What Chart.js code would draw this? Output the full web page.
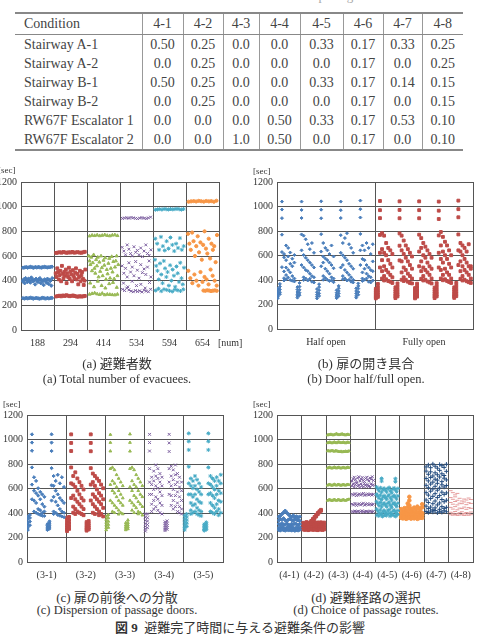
<!DOCTYPE html>
<html>
<head>
  <meta charset="utf-8">
  <title>避難完了時間に与える避難条件の影響</title>
  <script src="https://cdn.jsdelivr.net/npm/chart.js@4.4.0/dist/chart.umd.min.js"></script>
  <style>
    body {
      margin: 0;
      width: 482px;
      height: 640px;
      position: relative;
      overflow: hidden;
      background: #fff;
      color: #333;
      font-family: "Liberation Serif", "Noto Sans CJK JP", serif;
    }
    .cap { position: absolute; transform: translateX(-50%); white-space: nowrap; }
    .jp { font-size: 13px; }
    .en { font-size: 12.5px; }
    .unit { position: absolute; font-size: 9px; color: #333; }
    #tbl {
      position: absolute; left: 15px; top: 12px; width: 448px;
      border-collapse: collapse; font-size: 14px; color: #444;
      font-family: "Liberation Serif", serif;
      border-top: 2px solid #888; border-bottom: 2px solid #888;
    }
    #tbl td { padding: 0; height: 19px; text-align: center; }
    #tbl td + td { border-left: 1px solid #999; }
    #tbl td:first-child { text-align: left; padding-left: 9px; }
    #tbl tr:first-child td { height: 20px; border-bottom: 1px solid #888; }
    canvas { position: absolute; }
  </style>
</head>
<body>

  <div class="cap" style="left:240px; top:-12px; font-size:13px; color:#aaa;">Table 6&nbsp;&nbsp;Evacuation condition 4 – Choice of passage routes</div>
  <table id="tbl"></table>

  <canvas id="chartA" width="238" height="180" style="left:-12px; top:172px;"></canvas>
  <canvas id="chartB" width="242" height="180" style="left:238px; top:172px;"></canvas>
  <canvas id="chartC" width="232" height="180" style="left:-2px; top:405px;"></canvas>
  <canvas id="chartD" width="242" height="180" style="left:238px; top:405px;"></canvas>

  <div class="unit" style="left:-2px; top:165px;">[sec]</div>
  <div class="unit" style="left:253px; top:166px;">[sec]</div>
  <div class="unit" style="left:3px; top:399px;">[sec]</div>
  <div class="unit" style="left:253px; top:399px;">[sec]</div>
  <div class="unit" style="left:218px; top:337px; font-size:10px;">[num]</div>

  <div class="cap jp" style="left:117px; top:353px;">(a) 避難者数</div>
  <div class="cap en" style="left:117px; top:372px;">(a) Total number of evacuees.</div>
  <div class="cap jp" style="left:366px; top:353px;">(b) 扉の開き具合</div>
  <div class="cap en" style="left:366px; top:372px;">(b) Door half/full open.</div>
  <div class="cap jp" style="left:117px; top:587px;">(c) 扉の前後への分散</div>
  <div class="cap en" style="left:117px; top:603px;">(c) Dispersion of passage doors.</div>
  <div class="cap jp" style="left:366px; top:587px;">(d) 避難経路の選択</div>
  <div class="cap en" style="left:366px; top:603px;">(d) Choice of passage routes.</div>
  <div class="cap jp" style="left:240px; top:617px;"><b>図 9</b>&nbsp;&nbsp;避難完了時間に与える避難条件の影響</div>

  <script>
    // ---- table 6 ----
    const conditions = ["Stairway A-1", "Stairway A-2", "Stairway B-1", "Stairway B-2", "RW67F Escalator 1", "RW67F Escalator 2"];
    const routeCols = ["4-1", "4-2", "4-3", "4-4", "4-5", "4-6", "4-7", "4-8"];
    const shares = [
      ["0.50", "0.25", "0.0", "0.0", "0.33", "0.17", "0.33", "0.25"],
      ["0.0", "0.25", "0.0", "0.0", "0.0", "0.17", "0.0", "0.25"],
      ["0.50", "0.25", "0.0", "0.0", "0.33", "0.17", "0.14", "0.15"],
      ["0.0", "0.25", "0.0", "0.0", "0.0", "0.17", "0.0", "0.15"],
      ["0.0", "0.0", "0.0", "0.50", "0.33", "0.17", "0.53", "0.10"],
      ["0.0", "0.0", "1.0", "0.50", "0.0", "0.17", "0.0", "0.10"]
    ];
    const colWidths = [127, 41, 40, 36, 41, 43, 40, 39, 41];

    // ---- (a) number of evacuees: bands of completion times per group ----
    const evacLabels = ["188", "294", "414", "534", "594", "654"];
    const evac188 = [
      [505, 507, 510, 506, 509, 512, 508, 505, 510, 507, 511, 508, 506, 509, 512, 510, 507, 509, 511, 513],
      [395, 410, 380, 420, 405, 390, 415, 400, 385, 425, 410, 395, 405, 370, 415, 400, 390, 410, 420, 380, 405, 395, 365, 410, 400, 385, 415, 375, 405, 398, 360, 420],
      [258, 255, 260, 256, 259, 262, 257, 255, 258, 260, 256, 254, 258, 261, 257, 255, 259, 256, 258, 260]
    ];
    const evac294 = [
      [625, 628, 630, 627, 632, 629, 626, 630, 628, 633, 627, 629, 631, 628, 626, 630, 634],
      [460, 430, 500, 470, 410, 445, 480, 395, 520, 455, 420, 470, 440, 490, 380, 460, 430, 505, 415, 475, 450, 395, 485, 440, 420, 465, 500, 410, 455, 370, 430, 480, 395, 445, 470, 415, 365, 400, 490],
      [272, 275, 278, 273, 280, 276, 282, 278, 274, 277, 280, 275, 272, 270, 274, 271, 273, 276]
    ];
    const evac414 = [
      [762, 768, 765, 770, 764, 767, 772, 766, 763, 769, 771, 765],
      [600, 560, 530, 590, 480, 545, 610, 500, 460, 570, 520, 590, 430, 550, 475, 600, 505, 440, 565, 525, 585, 410, 490, 455, 540, 580, 420, 500, 595, 470, 555, 415, 510, 560, 600, 440, 530],
      [380, 350, 395, 360, 340, 375, 385, 345],
      [290, 295, 300, 292, 288, 297, 285, 290, 288, 286, 284, 290]
    ];
    const evac534 = [
      [905, 908, 910, 906, 912, 909, 905, 903, 907, 911, 906, 904, 909, 915],
      [670, 640, 610, 690, 655, 620, 600, 675, 630, 645, 610, 665, 595, 640, 690, 620, 605, 650],
      [520, 460, 500, 430, 545, 470, 510, 440, 555, 485, 420, 530, 465, 495, 450, 510, 560, 430],
      [380, 350, 395, 360, 370, 340, 385],
      [330, 320, 340, 325, 315, 310, 320, 312, 318, 308, 322, 315, 310, 330]
    ];
    const evac594 = [
      [975, 978, 980, 976, 982, 979, 977, 981, 978, 980, 983, 979, 976, 981],
      [740, 700, 650, 755, 680, 645, 720, 660, 750, 690, 640, 700, 665, 745, 650, 680],
      [570, 520, 480, 410, 540, 450, 380, 560, 500, 430, 470, 360, 525, 400, 490, 440, 350, 515, 460, 390, 545, 420, 370, 505],
      [320, 335, 315, 330, 325, 318, 312, 328, 322, 316, 330]
    ];
    const evac654 = [
      [1040, 1043, 1045, 1042, 1047, 1044, 1041, 1046, 1043, 1045, 1040, 1048],
      [780, 700, 650, 790, 720, 600, 680, 760, 630, 710, 570, 690, 800, 660, 620, 740, 580, 700, 650, 680, 550, 770],
      [480, 420, 380, 450, 400, 360, 470, 390, 430, 410, 370, 490, 440, 400, 360],
      [null, null, null, null, null, null, null, null, 320, 318, 322, 320, 316, 319, 321, 318]
    ];

    // ---- (b) door half / fully open: 5 runs of columns per group ----
    const doorLabels = ["Half open", "Fully open"];
    const halfOpen = [
      [[252, 266, 280, 296, 312, 330], [284, 300, 322, 346, 368], [1040, 975, 905, 770, 628, 505], [612, 585, 470, 415, 396], [682, 562, 502, 440, 404], [662, 592, 482, 420], [624, 532, 462, 400], [574, 512, 432, 394], [604, 542, 412, 388]],
      [[256, 270, 284, 302, 322, 342], [276, 296, 320, 346, 376], [1040, 972, 906, 772, 642, 522], [762, 604, 502, 422, 400], [732, 582, 482, 412], [692, 562, 472, 396], [652, 542, 452, 410], [702, 522, 432, 386], [622, 502, 422, 380]],
      [[250, 264, 280, 300, 326], [270, 290, 316, 342, 366], [1042, 974, 904, 774, 632, 512], [702, 592, 542, 432, 402], [662, 576, 492, 416], [642, 562, 472, 402], [612, 542, 452, 392], [682, 522, 422, 396], [592, 496, 412, 382]],
      [[252, 264, 278, 296, 316], [268, 290, 310, 332, 352], [1040, 970, 906, 766, 622, 502], [702, 602, 522, 432, 406], [742, 582, 482, 412], [782, 562, 462, 396], [692, 532, 442, 402], [662, 512, 422, 386], [622, 492, 402, 380]],
      [[256, 270, 290, 310, 332], [280, 302, 330, 352, 372], [1048, 978, 910, 776, 642, 522], [682, 572, 462, 412, 392], [642, 562, 492, 402], [702, 522, 452, 412], [662, 502, 432, 386], [612, 482, 422, 380], [692, 552, 472, 396]]
    ];
    const fullyOpen = [
      [[250, 260, 272, 284, 298, 312, 328], [262, 278, 298, 318, 342, 368], [1045, 970, 905, 768, 622, 502], [782, 652, 562, 472, 412], [762, 622, 512, 432, 396], [702, 602, 482, 406], [662, 562, 462, 392], [642, 532, 442, 386], [612, 502, 422, 376]],
      [[252, 264, 276, 290, 306, 322, 340], [266, 282, 302, 324, 348, 372], [1042, 972, 904, 780, 680, 560], [762, 642, 552, 462, 402], [722, 612, 502, 422, 392], [682, 582, 482, 402], [652, 552, 452, 386], [622, 522, 432, 376], [592, 492, 412, 372]],
      [[250, 262, 274, 288, 302, 318, 334], [264, 280, 300, 322, 346, 370], [1042, 970, 904, 770, 632, 512], [742, 662, 552, 472, 410], [702, 602, 502, 432, 396], [672, 582, 482, 402], [642, 542, 462, 388], [612, 512, 442, 380], [582, 492, 412, 372]],
      [[252, 264, 276, 290, 306, 322, 338], [266, 284, 304, 326, 350, 374], [1040, 966, 898, 764, 622, 502], [792, 682, 572, 482, 412], [752, 632, 542, 442, 398], [712, 602, 492, 406], [682, 572, 462, 392], [642, 532, 442, 384], [602, 502, 412, 376]],
      [[254, 266, 278, 292, 308, 324, 340], [268, 286, 306, 328, 352, 376], [1048, 978, 912, 772, 642, 522], [702, 632, 552, 472, 410], [682, 602, 512, 432, 396], [662, 572, 482, 402], [632, 542, 462, 390], [692, 512, 442, 382], [512, 492, 412, 376]]
    ];

    // ---- (c) dispersion of passage doors: 2 runs of columns per group ----
    const dispLabels = ["(3-1)", "(3-2)", "(3-3)", "(3-4)", "(3-5)"];
    const disp31 = [
      [[262, 280, 300, 322, 350, 372], [300, 330, 360, 384], [1042, 975, 908, 772, 632, 512], [692, 582, 502, 412], [662, 562, 482, 402], [602, 542, 432, 392], [572, 512, 422, 384], [552, 472, 402, 378], [532, 452, 412, 376]],
      [[262, 272, 284, 296, 310], [272, 286, 300, 318, 332], [1042, 975, 906, 766, 626, 502], [702, 622, 532, 412, 392], [662, 582, 492, 402], [712, 552, 462, 384], [642, 522, 432, 378], [692, 502, 412, 372], [612, 482, 402, 366]]
    ];
    const disp32 = [
      [[252, 266, 282, 300, 320, 342, 362], [270, 292, 316, 342, 368], [1042, 972, 906, 772, 642, 522], [702, 632, 542, 452, 402], [732, 612, 512, 432, 392], [682, 582, 492, 412], [652, 552, 472, 402], [622, 522, 452, 392], [592, 502, 432, 382]],
      [[256, 268, 280, 294, 310, 326], [266, 280, 296, 314, 334], [1042, 972, 904, 766, 632, 502], [722, 652, 552, 472, 402], [702, 622, 532, 452, 392], [682, 592, 512, 432], [662, 562, 492, 412, 382], [632, 542, 472, 392], [602, 512, 442, 372]]
    ];
    const disp33 = [
      [[262, 280, 300, 322, 346, 372], [282, 306, 332, 360, 386], [1040, 975, 905, 762, 632, 502], [772, 662, 582, 482, 412], [752, 642, 562, 462, 402], [712, 612, 532, 442], [682, 582, 502, 422, 390], [652, 552, 482, 402], [622, 522, 462, 392]],
      [[262, 274, 288, 302, 320], [270, 286, 302, 320, 342], [1044, 975, 904, 762, 612, 502], [772, 662, 582, 482, 422], [752, 632, 542, 462, 402], [712, 612, 522, 442], [682, 582, 492, 412, 392], [652, 552, 472, 402], [622, 532, 452, 382]]
    ];
    const disp34 = [
      [[252, 270, 290, 312, 338, 366, 392], [280, 306, 334, 362, 392], [1042, 975, 906, 762, 652, 552], [692, 632, 552, 472, 412], [742, 662, 592, 502, 432], [792, 702, 622, 532, 452], [762, 682, 602, 512, 422], [722, 652, 572, 482, 402], [692, 622, 542, 462, 392]],
      [[256, 268, 282, 296, 312, 328], [266, 282, 298, 316, 336], [1042, 972, 902, 762, 652, 552], [782, 702, 622, 542, 462], [752, 672, 592, 502, 432], [792, 712, 632, 542, 452], [722, 652, 572, 482, 412], [692, 612, 532, 452, 402], [652, 582, 502, 432, 392]]
    ];
    const disp35 = [
      [[262, 282, 304, 328, 352, 378], [290, 316, 342, 368, 392], [1050, 985, 915, 778, 642, 552], [682, 622, 552, 482, 422, 392], [662, 602, 532, 462, 402], [702, 622, 552, 472, 412], [672, 592, 512, 442, 392], [642, 572, 492, 422, 382], [612, 552, 482, 412, 376]],
      [[256, 266, 278, 292, 308], [264, 278, 292, 308, 324], [1050, 985, 915, 772, 642, 552], [702, 632, 562, 482, 412], [682, 612, 542, 462, 402], [662, 592, 522, 442, 392], [692, 622, 552, 472, 412], [662, 582, 502, 432, 382], [712, 642, 562, 492, 402]]
    ];

    // ---- (d) choice of passage routes: bands per group ----
    const routeLabels = ["(4-1)", "(4-2)", "(4-3)", "(4-4)", "(4-5)", "(4-6)", "(4-7)", "(4-8)"];
    const route41 = [
      [370, 378, 392, 405, 418, 402, 388, 376, 368, 380, 366, 372, 364, 370],
      [340, 350, 346, 356, 341, 336, 346, 351, 343, 338, 349, 345, 340, 336],
      [310, 305, 316, 301, 308, 313, 305, 300, 311, 306, 315, 308, 302, 310],
      [280, 276, 286, 278, 272, 281, 285, 276, 283, 278, 274, 281, 277, 282],
      [262, 258, 265, 260, 257, 263, 259, 261, 258, 262, 256, 260, 258, 263]
    ];
    const route42 = [
      [320, 314, 326, 318, 322, 316, 320, 326, 318, 323, 320, 324, 318, 322],
      [302, 296, 306, 298, 303, 296, 301, 306, 298, 302, 300, 296, 304, 300],
      [282, 276, 286, 278, 283, 276, 281, 286, 278, 283, 280, 278, 284, 280],
      [266, 262, 269, 260, 264, 268, 262, 266, 263, 260, 267, 264, 262, 266],
      [null, null, null, null, null, 336, 352, 368, 384, 400, 414, 426, null, null],
      [null, null, null, null, null, 330, 342, 358, 372, 390, 406, 418, null, null]
    ];
    const route43 = [
      [1036, 1038, 1040, 1042, 1039, 1036, 1040, 1043, 1046, 1042, 1038, 1040, 1043, 1045, 1041, 1038, 1036, 1040, 1042, 1039],
      [972, 975, 978, 974, 971, 976, 979, 975, 972, 977, 980, 976, 973, 975, 978, 974, 971, 976, 978, 975],
      [906, 908, 904, 907, 910, 906, 903, 908, 906, 904, 902, 900, 903, 898, 902, 900, 904, 901, 903, 906],
      [766, 770, 773, 768, 765, 770, 774, 769, 766, 771, 773, 768, 765, 770, 772, 768, 766, 770, 773, 770],
      [626, 630, 633, 628, 625, 630, 634, 629, 626, 631, 633, 628, 625, 630, 632, 628, 626, 630, 633, 630],
      [502, 506, 509, 504, 501, 506, 510, 505, 502, 507, 509, 504, 501, 506, 508, 504, 502, 506, 510, 512]
    ];
    const route44 = [
      [662, 680, 692, 672, 652, 686, 696, 662, 676, 690, 666, 656, 682, 692, 672, 662, 686, 676, 696, 666],
      [622, 638, 612, 632, 642, 618, 628, 608, 636, 624, 614, 640, 626, 616, 632, 620, 612, 638, 626, 630],
      [552, 546, 558, 542, 550, 556, 546, 552, 560, 544, 550, 556, 548, 554, 546, 552],
      [472, 466, 478, 462, 470, 476, 466, 472, 480, 464, 470, 476, 468, 474, 466, 472],
      [412, 408, 416, 410, 414, 406, 412, 418, 410, 408, 414, 410, 412, 416, 408, 412]
    ];
    const route45 = [
      [null, null, null, null, 682, null, null, null, null, null, null, null, null, null, null, 680, null, null],
      [null, null, null, null, 660, null, null, null, null, null, null, null, null, null, null, 656, null, null],
      [612, 596, 580, 606, 570, 590, 602, 586, 572, 598, 608, 582, 566, 594, 604, 588, 574, 600],
      [552, 536, 520, 546, 510, 530, 542, 526, 512, 538, 548, 522, 506, 534, 544, 528, 514, 540],
      [492, 476, 460, 486, 450, 470, 482, 466, 452, 478, 488, 462, 446, 474, 484, 468, 454, 480],
      [432, 416, 400, 426, 392, 410, 422, 406, 394, 418, 428, 402, 388, 414, 424, 408, 396, 420],
      [382, 376, 390, 372, 384, 378, 392, 374, 386, 380, 372, 388]
    ];
    const route46 = [
      [null, null, null, null, null, 532, null, null, null, null, null, null, null, null],
      [null, null, null, null, null, 502, null, null, null, null, null, null, null, 472],
      [null, null, null, null, 478, 462, null, null, null, null, null, null, null, null],
      [432, 412, 440, 420, 448, 428, 436, 416, 444, 424, 452, 432, 440, 446],
      [402, 394, 410, 398, 404, 392, 408, 400, 396, 406, 398, 404, 410, 400],
      [378, 372, 384, 370, 380, 374, 386, 372, 378, 382, 370, 376, 384, 380],
      [360, 356, 364, 352, 358, 362, 354, 360, 356, 364, 352, 358, 362, 360]
    ];
    const route47 = [
      [776, 792, 770, 800, 782, 766, 796, 786, 772, 798],
      [742, 716, 736, 702, 728, 712, 748, 720, 706, 740],
      [682, 662, 690, 652, 676, 668, 694, 656, 684, 670],
      [626, 606, 636, 596, 618, 642, 604, 630, 612, 624],
      [566, 546, 578, 536, 558, 586, 542, 570, 552, 564],
      [506, 486, 518, 476, 498, 526, 482, 510, 492, 504],
      [456, 436, 448, 426, 442, 466, 430, 452, 438, 446],
      [412, 404, 416, 408, 420, 402, 414, 406, 418, 410]
    ];
    const route48 = [
      [582, 566, 548, 560, null, null, null, null, null, null],
      [526, 512, 532, 504, 520, 498, 514, 506, 522, 510],
      [486, 472, 494, 466, 480, 476, 490, 468, 484, 478],
      [446, 432, 452, 426, 440, 436, 448, 430, 444, 438],
      [406, 398, 412, 394, 402, 410, 396, 404, 398, 408],
      [386, 382, 388, 380, 384, 386, 380, 384, 382, 386]
    ];

    const yTicks = [0, 200, 400, 600, 800, 1000, 1200];

    const BLUE = "#4a7ebb", RED = "#be4b48", GREEN = "#98b954", PURPLE = "#7d60a0",
          CYAN = "#46aac5", ORANGE = "#f79646", NAVY = "#264e80", PINK = "#e59c9c";

    // build table
    let tbl = document.getElementById("tbl");
    let html = "<colgroup>" + colWidths.map(w => `<col style="width:${w}px">`).join("") + "</colgroup>";
    html += "<tr><td>Condition</td>" + routeCols.map(c => `<td>${c}</td>`).join("") + "</tr>";
    conditions.forEach((c, i) => {
      html += `<tr><td>${c}</td>` + shares[i].map(v => `<td>${v}</td>`).join("") + "</tr>";
    });
    tbl.innerHTML = html;

    // spread a group's bands across its slot on the x axis
    function rowsToPoints(g, rows) {
      let pts = [];
      rows.forEach(row => {
        row.forEach((y, j) => {
          if (y === null) return;
          pts.push({x: g + 0.04 + 0.92 * (j + 0.5) / row.length, y});
        });
      });
      return pts;
    }

    // runs -> columns -> stacked values
    function runsToPoints(g, runs) {
      let pts = [];
      runs.forEach((cols, c) => {
        cols.forEach((col, k) => {
          col.forEach(y => pts.push({x: g + (c + 0.95 * (k + 0.4) / cols.length) / runs.length, y}));
        });
      });
      return pts;
    }

    function makeChart(id, labels, datasets, yWidth, padRight, xHeight) {
      let n = labels.length;
      new Chart(document.getElementById(id), {
        type: "scatter",
        data: {datasets},
        options: {
          responsive: false,
          animation: false,
          devicePixelRatio: 1,
          layout: {padding: {top: 8, right: padRight, left: 0, bottom: 0}},
          plugins: {legend: {display: false}, tooltip: {enabled: false}},
          scales: {
            x: {
              type: "linear", min: 0, max: n,
              afterFit: s => { s.height = xHeight; },
              afterBuildTicks: s => {
                let t = [];
                for (let i = 0; i <= 2 * n; i++) t.push({value: i / 2});
                s.ticks = t;
              },
              ticks: {
                autoSkip: false, maxRotation: 0, padding: 7, color: "#333",
                font: {family: "Liberation Serif", size: 10},
                callback: v => (v % 1 === 0.5) ? labels[Math.floor(v)] : ""
              },
              grid: {
                drawTicks: false, lineWidth: 1,
                color: ctx => (ctx.tick && ctx.tick.value % 1 === 0) ? "#555" : "rgba(0,0,0,0)"
              },
              border: {color: "#555", width: 1}
            },
            y: {
              min: 0, max: 1200,
              afterFit: s => { s.width = yWidth; },
              afterBuildTicks: s => { s.ticks = yTicks.map(v => ({value: v})); },
              ticks: {
                padding: 4, color: "#333", font: {family: "Liberation Serif", size: 10},
                callback: v => String(v)
              },
              grid: {drawTicks: false, color: "#555", lineWidth: 1},
              border: {color: "#555", width: 1}
            }
          }
        }
      });
    }

    function ds(data, color, style, r) {
      return {data, pointStyle: style, pointRadius: r, borderColor: color, backgroundColor: color, borderWidth: 1};
    }

    makeChart("chartA", evacLabels, [
      ds(rowsToPoints(0, evac188), BLUE, "rectRot", 1.8),
      ds(rowsToPoints(1, evac294), RED, "rect", 2),
      ds(rowsToPoints(2, evac414), GREEN, "triangle", 1.8),
      ds(rowsToPoints(3, evac534), PURPLE, "crossRot", 2),
      ds(rowsToPoints(4, evac594), CYAN, "star", 2),
      ds(rowsToPoints(5, evac654), ORANGE, "circle", 1.6)
    ], 33, 3, 22);

    makeChart("chartB", doorLabels, [
      ds(runsToPoints(0, halfOpen), BLUE, "rectRot", 1.5),
      ds(runsToPoints(1, fullyOpen), RED, "rect", 2)
    ], 39, 3, 23);

    makeChart("chartC", dispLabels, [
      ds(runsToPoints(0, disp31), BLUE, "rectRot", 1.6),
      ds(runsToPoints(1, disp32), RED, "rect", 2),
      ds(runsToPoints(2, disp33), GREEN, "triangle", 1.6),
      ds(runsToPoints(3, disp34), PURPLE, "crossRot", 2),
      ds(runsToPoints(4, disp35), CYAN, "star", 2)
    ], 29, 2, 23);

    makeChart("chartD", routeLabels, [
      ds(rowsToPoints(0, route41), BLUE, "rectRot", 1.8),
      ds(rowsToPoints(1, route42), RED, "rect", 2),
      ds(rowsToPoints(2, route43), GREEN, "triangle", 1.5),
      ds(rowsToPoints(3, route44), PURPLE, "crossRot", 2),
      ds(rowsToPoints(4, route45), CYAN, "star", 2),
      ds(rowsToPoints(5, route46), ORANGE, "circle", 1.8),
      ds(rowsToPoints(6, route47), NAVY, "cross", 2.2),
      ds(rowsToPoints(7, route48), PINK, "line", 2)
    ], 39, 3, 23);
  </script>
</body>
</html>
